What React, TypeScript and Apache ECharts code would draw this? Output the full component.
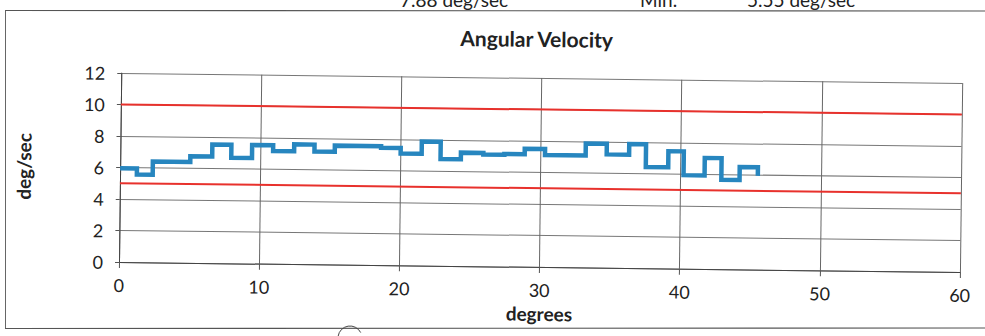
import React, { useEffect, useRef } from "react";
import * as echarts from "echarts";

// ---- data ----
const xTickMin = 0;
const xTickMax = 60;
const xTickStep = 10;
const yTickMin = 0;
const yTickMax = 12;
const yTickStep = 2;

// step start positions (degrees) and angular velocity (deg/sec) held until next start
const stepDegrees = [
  0, 1.2, 2.33, 5.0, 6.56, 7.92, 9.4, 10.9, 12.4, 13.85, 15.3, 18.6, 20.0, 21.5,
  22.85, 24.3, 25.9, 27.4, 28.85, 30.3, 33.2, 34.7, 36.3, 37.5, 39.1, 40.2, 41.7,
  42.9, 44.2, 45.5, 45.5,
];
const stepVelocity = [
  5.95, 5.57, 6.4, 6.77, 7.53, 6.7, 7.53, 7.16, 7.6, 7.16, 7.55, 7.45, 7.1, 7.88,
  6.78, 7.2, 7.1, 7.15, 7.5, 7.12, 7.88, 7.2, 7.88, 6.43, 7.45, 5.94, 7.05, 5.68,
  6.5, 6.5, 5.95,
];
const limitDegrees = [0, 60];
const upperLimit = [10, 10];
const lowerLimit = [5, 5];

const titleText = "Angular Velocity";
const xName = "degrees";
const yName = "deg/sec";
const headerMaxValue = "7.88 deg/sec";
const headerMinLabel = "Min.";
const headerMinValue = "5.55 deg/sec";

const FONT = 'Lato, "Liberation Sans", "DejaVu Sans", sans-serif';

export default function App() {
  const bgRef = useRef<HTMLDivElement>(null);
  const chartRef = useRef<HTMLDivElement>(null);

  useEffect(() => {
    if (!bgRef.current || !chartRef.current) return;
    const bg = echarts.init(bgRef.current, undefined, { renderer: "svg" });
    const chart = echarts.init(chartRef.current, undefined, { renderer: "svg" });

    bg.setOption({
      animation: false,
      backgroundColor: "#ffffff",
      graphic: [
        { type: "line", shape: { x1: 5, y1: 10.5, x2: 985, y2: 11 }, style: { stroke: "#555", lineWidth: 1.2 } },
        { type: "line", shape: { x1: 5.5, y1: 10.5, x2: 5.5, y2: 328 }, style: { stroke: "#666", lineWidth: 1 } },
        { type: "line", shape: { x1: 5, y1: 328.5, x2: 985, y2: 328 }, style: { stroke: "#555", lineWidth: 1.2 } },
        { type: "arc", shape: { cx: 350, cy: 338, r: 12, startAngle: Math.PI * 1.05, endAngle: Math.PI * 1.85 }, style: { stroke: "#444", lineWidth: 1, fill: "none" } },
        { type: "text", x: 400, y: 9, style: { text: headerMaxValue, font: `19px ${FONT}`, fill: "#222", verticalAlign: "bottom", align: "left" } },
        { type: "text", x: 640, y: 9, style: { text: headerMinLabel, font: `19px ${FONT}`, fill: "#222", verticalAlign: "bottom", align: "left" } },
        { type: "text", x: 747, y: 9, style: { text: headerMinValue, font: `19px ${FONT}`, fill: "#222", verticalAlign: "bottom", align: "left" } },
      ],
    });

    chart.setOption({
      animation: false,
      backgroundColor: "transparent",
      textStyle: { fontFamily: FONT },
      title: {
        text: titleText,
        left: 529,
        textAlign: "center",
        top: 18,
        textStyle: { fontSize: 21, fontWeight: "bold", color: "#222", fontFamily: FONT },
      },
      grid: { left: 119, right: 25, top: 73, bottom: 74, containLabel: false },
      xAxis: {
        type: "value",
        min: xTickMin,
        max: xTickMax,
        interval: xTickStep,
        name: xName,
        nameLocation: "middle",
        nameGap: 37,
        nameMoveOverlap: false,
        nameTextStyle: { fontSize: 19, lineHeight: 19, fontWeight: "bold", color: "#222", fontFamily: FONT },
        axisLine: { show: true, onZero: false, lineStyle: { color: "#444", width: 1 } },
        axisTick: { show: true, length: 6, lineStyle: { color: "#555" } },
        axisLabel: { fontSize: 18, lineHeight: 16, color: "#222", margin: 15, fontFamily: FONT },
        splitLine: { show: true, lineStyle: { color: "#666", width: 1 } },
      },
      yAxis: {
        type: "value",
        min: yTickMin,
        max: yTickMax,
        interval: yTickStep,
        name: yName,
        nameLocation: "middle",
        nameGap: 87,
        nameMoveOverlap: false,
        nameRotate: 90,
        nameTextStyle: { fontSize: 19, fontWeight: "bold", color: "#222", fontFamily: FONT },
        axisLine: { show: true, lineStyle: { color: "#444", width: 1 } },
        axisTick: { show: true, length: 4, lineStyle: { color: "#555" } },
        axisLabel: { fontSize: 18, color: "#222", margin: 16, fontFamily: FONT },
        splitLine: { show: true, lineStyle: { color: "#777", width: 1 } },
      },
      series: [
        {
          type: "line",
          name: "Upper",
          data: limitDegrees.map((d, i) => [d, upperLimit[i]]),
          symbol: "none",
          lineStyle: { color: "#e8312c", width: 2 },
          z: 2,
        },
        {
          type: "line",
          name: "Lower",
          data: limitDegrees.map((d, i) => [d, lowerLimit[i]]),
          symbol: "none",
          lineStyle: { color: "#e8312c", width: 2 },
          z: 2,
        },
        {
          type: "line",
          name: "Angular Velocity",
          data: stepDegrees.map((d, i) => [d, stepVelocity[i]]),
          step: "end",
          symbol: "none",
          lineStyle: { color: "#2786bf", width: 4.5, join: "miter" },
          z: 3,
        },
      ],
    });

    return () => {
      chart.dispose();
      bg.dispose();
    };
  }, []);

  return (
    <div style={{ position: "fixed", left: 0, top: 0, width: 985, height: 336, overflow: "hidden", background: "#fff" }}>
      <div ref={bgRef} style={{ position: "absolute", left: 0, top: 0, width: 985, height: 336 }} />
      <div
        ref={chartRef}
        style={{
          position: "absolute",
          left: 0,
          top: 0,
          width: 985,
          height: 336,
          transform: "rotate(0.68deg)",
          transformOrigin: "119px 262px",
        }}
      />
    </div>
  );
}
